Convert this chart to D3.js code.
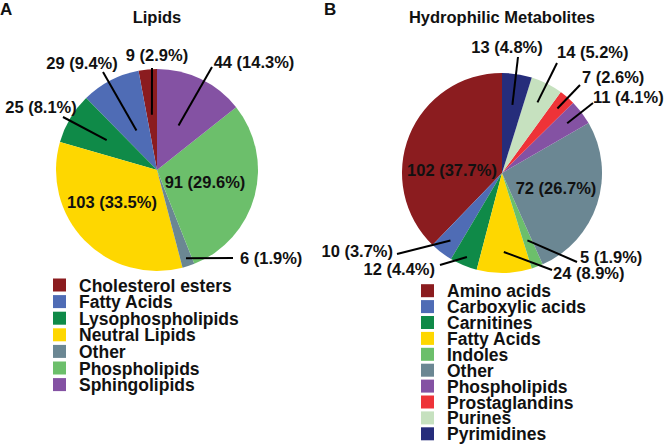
<!DOCTYPE html>
<html lang="en">
<head>
    <meta charset="UTF-8">
    <title></title>
    <script type="text/javascript" src="https://cdn.jsdelivr.net/npm/d3@7/dist/d3.min.js"></script>
    <style>
        body{
            margin: 0;
            background: #fff;
        }
        text{
            font-family: "Liberation Sans", Arial, sans-serif;
            font-weight: bold;
            fill: #111;
        }
        .lead{
            stroke: #000;
            stroke-width: 2;
        }
    </style>
</head>
<body>
<svg id="chart" width="664" height="444"></svg>
<script type="text/javascript">
    // Lipids (panel A)
    var lipidNames = ['Cholesterol esters','Fatty Acids','Lysophospholipids','Neutral Lipids','Other','Phospholipids','Sphingolipids'];
    var lipidCounts = [9, 29, 25, 103, 6, 91, 44];
    var lipidPct = [2.9, 9.4, 8.1, 33.5, 1.9, 29.6, 14.3];
    var lipidColors = ['#8b1c1f','#4f6cb5','#0f8a48','#fed700','#6b8793','#6cbf6b','#8452a3'];

    // Hydrophilic metabolites (panel B)
    var hydroNames = ['Amino acids','Carboxylic acids','Carnitines','Fatty Acids','Indoles','Other','Phospholipids','Prostaglandins','Purines','Pyrimidines'];
    var hydroCounts = [102, 10, 12, 24, 5, 72, 11, 7, 14, 13];
    var hydroPct = [37.7, 3.7, 4.4, 8.9, 1.9, 26.7, 4.1, 2.6, 5.2, 4.8];
    var hydroColors = ['#8b1c1f','#4f6cb5','#0f8a48','#fed700','#6cbf6b','#6b8793','#8452a3','#ee3338','#c6e1bf','#262d7b'];

    var svg = d3.select('#chart');

    // label layout: [x, y, anchor, lineX, lineY, radius fraction] ; null fraction = inside label
    var lipidLayout = [
        [157, 55, 'middle', 152, 68, .55],
        [82, 63, 'middle', 103, 72, .44],
        [41, 107, 'middle', 63, 117, .58],
        [112, 202, 'middle', 0, 0, null],
        [240, 258, 'start', 233, 258, .92],
        [205, 182, 'middle', 0, 0, null],
        [254, 62, 'middle', 212, 67, .49]
    ];
    var hydroLayout = [
        [452, 170, 'middle', 0, 0, null],
        [393, 251, 'end', 397, 254, .85],
        [435, 269, 'end', 440, 265, .91],
        [553, 273, 'start', 552, 270, .79],
        [580, 257, 'start', 577, 262, .72],
        [556, 188, 'middle', 0, 0, null],
        [593, 97, 'start', 593, 103, .82],
        [582, 77, 'start', 580, 85, .85],
        [557, 52, 'start', 557, 63, .79],
        [507, 47, 'middle', 518, 57, .69]
    ];

    function drawPie(cfg){
        var g = svg.append('g');
        var r = cfg.r;
        var pie = d3.pie().sort(null).startAngle(0).endAngle(-2*Math.PI);
        var arcs = pie(cfg.counts);
        var arc = d3.arc().innerRadius(0).outerRadius(r);
        var color = d3.scaleOrdinal().domain(cfg.names).range(cfg.colors);

        g.append('text').attr('x', cfg.letterX).attr('y', 15)
            .style('font-size', '17px').text(cfg.letter);
        g.append('text').attr('x', cfg.cx).attr('y', 23)
            .attr('text-anchor', 'middle').style('font-size', '16.5px').text(cfg.title);

        var pg = g.append('g').attr('transform', 'translate(' + cfg.cx + ',' + cfg.cy + ')');
        pg.selectAll('path').data(arcs).enter().append('path')
            .attr('d', arc)
            .attr('fill', function(d, i){ return color(cfg.names[i]); });

        // leader lines
        arcs.forEach(function(d, i){
            var L = cfg.layout[i];
            if(L[5] == null) return;
            var a = d3.arc().innerRadius(r * L[5]).outerRadius(r * L[5]);
            var c = a.centroid(d);
            g.append('line').attr('class', 'lead')
                .attr('x1', L[3]).attr('y1', L[4])
                .attr('x2', cfg.cx + c[0]).attr('y2', cfg.cy + c[1]);
        });

        g.selectAll('text.lbl').data(arcs).enter().append('text')
            .attr('class', 'lbl')
            .attr('x', function(d, i){ return cfg.layout[i][0]; })
            .attr('y', function(d, i){ return cfg.layout[i][1] + 6; })
            .attr('text-anchor', function(d, i){ return cfg.layout[i][2]; })
            .style('font-size', '16.5px')
            .text(function(d, i){ return cfg.counts[i] + ' (' + cfg.pct[i].toFixed(1) + '%)'; });

        // legend
        var leg = g.append('g');
        var row = leg.selectAll('g').data(cfg.names).enter().append('g')
            .attr('transform', function(d, i){ return 'translate(' + cfg.legX + ',' + (cfg.legY + i * cfg.legStep) + ')'; });
        row.append('rect').attr('x', 0).attr('y', -6.5).attr('width', 13).attr('height', 13)
            .attr('fill', function(d){ return color(d); });
        row.append('text').attr('x', 26).attr('y', 6.5).style('font-size', '17.5px').text(function(d){ return d; });
    }

    drawPie({
        names: lipidNames, counts: lipidCounts, pct: lipidPct, colors: lipidColors, layout: lipidLayout,
        cx: 157, cy: 170, r: 101, title: 'Lipids', letter: 'A', letterX: 0,
        legX: 53, legY: 285, legStep: 16.6
    });
    drawPie({
        names: hydroNames, counts: hydroCounts, pct: hydroPct, colors: hydroColors, layout: hydroLayout,
        cx: 502, cy: 173, r: 100, title: 'Hydrophilic Metabolites', letter: 'B', letterX: 324,
        legX: 421, legY: 290.7, legStep: 15.9
    });
</script>
</body>
</html>
